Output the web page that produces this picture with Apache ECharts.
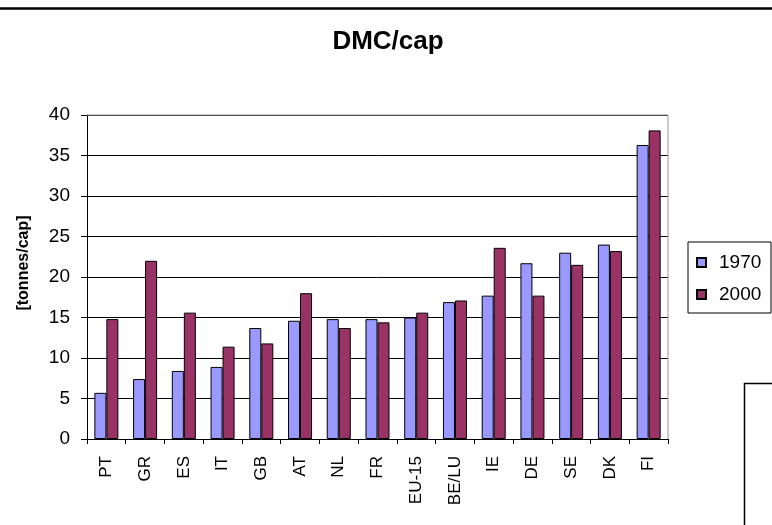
<!DOCTYPE html>
<html>
<head>
<meta charset="utf-8">
<script src="https://cdn.jsdelivr.net/npm/echarts@6/dist/echarts.min.js"></script>
<style>
  body { margin: 0; background: #fff; }
  #chart { width: 772px; height: 525px; }
</style>
</head>
<body>
<div id="chart"></div>
<script>
  // DMC per capita, tonnes/cap
  const categories = ['PT', 'GR', 'ES', 'IT', 'GB', 'AT', 'NL', 'FR', 'EU-15', 'BE/LU', 'IE', 'DE', 'SE', 'DK', 'FI'];
  const values1970 = [5.7, 7.4, 8.4, 8.9, 13.7, 14.6, 14.8, 14.8, 15.0, 16.9, 17.7, 21.7, 23.0, 24.0, 36.3];
  const values2000 = [14.8, 22.0, 15.6, 11.4, 11.8, 18.0, 13.7, 14.4, 15.6, 17.1, 23.6, 17.7, 21.5, 23.2, 38.1];
  const yTicks = [0, 5, 10, 15, 20, 25, 30, 35, 40];

  const font = '"Liberation Sans", Arial, sans-serif';
  const chart = echarts.init(document.getElementById('chart'));

  const option = {
    animation: false,
    backgroundColor: '#fff',
    title: {
      text: 'DMC/cap',
      left: 383,
      textAlign: 'center',
      top: 24,
      textStyle: { fontFamily: font, fontSize: 26, fontWeight: 'bold', color: '#000' }
    },
    legend: {
      orient: 'vertical',
      left: 696,
      top: 253,
      padding: 0,
      itemWidth: 9,
      itemHeight: 9,
      itemGap: 13,
      icon: 'rect',
      textStyle: { fontFamily: font, fontSize: 19, color: '#000', padding: [0, 0, 0, 8] },
      data: ['1970', '2000']
    },
    grid: { left: 87, right: 104, top: 115, bottom: 86 },
    xAxis: {
      type: 'category',
      data: categories,
      axisLine: { lineStyle: { color: '#000', width: 1 } },
      axisTick: { show: true, alignWithLabel: false, length: 5, lineStyle: { color: '#000' } },
      axisLabel: { rotate: 90, fontFamily: font, fontSize: 17, color: '#000', margin: 17 },
      splitLine: { show: false }
    },
    yAxis: {
      type: 'value',
      min: yTicks[0],
      max: yTicks[yTicks.length - 1],
      interval: 5,
      axisLine: { show: true, lineStyle: { color: '#000' } },
      axisTick: { show: true, length: 6, lineStyle: { color: '#000' } },
      axisLabel: { fontFamily: font, fontSize: 19, color: '#000', margin: 17 },
      splitLine: { show: true, lineStyle: { color: '#000', width: 1 } }
    },
    graphic: [
      { type: 'line', shape: { x1: 0, y1: 8.5, x2: 772, y2: 8.5 }, style: { stroke: '#000', lineWidth: 2.5 } },
      // plot frame top/right in grey
      { type: 'polyline', shape: { points: [[87, 115], [668, 115], [668, 439]] }, style: { stroke: '#999', lineWidth: 1, fill: null }, z: 5 },
      // y axis title
      {
        type: 'text', x: 24, y: 263, rotation: Math.PI / 2,
        style: {
          text: '[tonnes/cap]', fontFamily: font, fontSize: 16, fontWeight: 'bold',
          fill: '#000', align: 'center', verticalAlign: 'middle'
        }
      },
      // legend box
      { type: 'rect', shape: { x: 688, y: 242, width: 83, height: 71 }, style: { stroke: '#000', lineWidth: 1, fill: null } },
      // partial box at bottom right
      { type: 'polyline', shape: { points: [[744.5, 525], [744.5, 383.5], [772, 383.5]] }, style: { stroke: '#000', lineWidth: 1.5, fill: null } }
    ],
    series: [
      {
        name: '1970',
        type: 'bar',
        data: values1970,
        barGap: '0%',
        barCategoryGap: '38%',
        itemStyle: { color: '#9999ff', borderColor: '#000', borderWidth: 1 }
      },
      {
        name: '2000',
        type: 'bar',
        data: values2000,
        itemStyle: { color: '#993366', borderColor: '#000', borderWidth: 1 }
      }
    ]
  };

  chart.setOption(option);
</script>
</body>
</html>
